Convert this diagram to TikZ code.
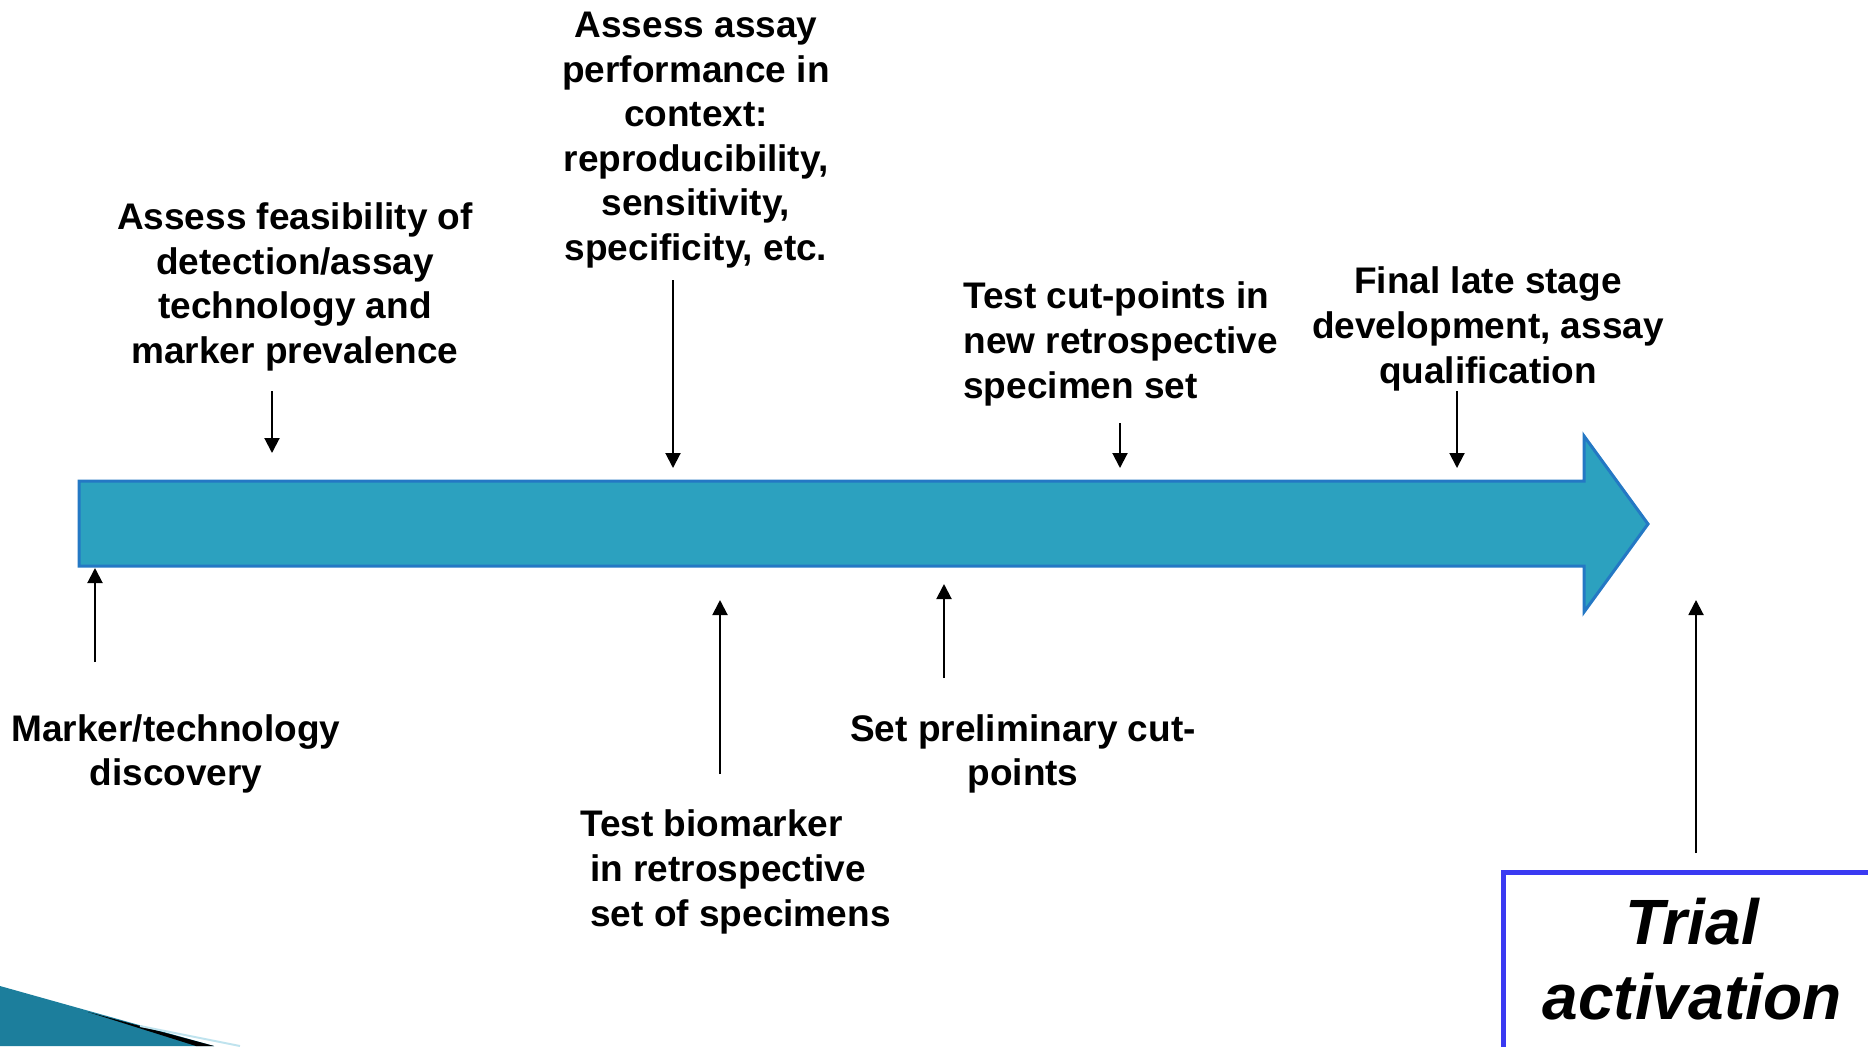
\documentclass[tikz,border=0pt]{standalone}
\usepackage{fontspec}
\setmainfont{Liberation Sans}
\usetikzlibrary{arrows.meta,positioning}
\definecolor{cTeal}{HTML}{2CA1BF}
\definecolor{cEdge}{HTML}{2478C4}
\definecolor{cBox}{HTML}{3A3AF2}
\definecolor{cDeco}{HTML}{1C7E9C}
\definecolor{cPale}{HTML}{BFE3EE}

\begin{document}
\begin{tikzpicture}[x=0.5pt,y=-0.5pt,>={Triangle[length=7.5pt,width=7.5pt]},
   lbl/.style={font=\fontsize{18.5}{22.3}\selectfont\bfseries,align=center,inner sep=0pt},
   tick/.style={->,line width=1pt}]
  \useasboundingbox (0,0) rectangle (1868,1046);
  \clip (0,0) rectangle (1868,1046);

  % corner decoration of the slide
  \fill[cDeco] (0,986) -- (214,1046) -- (0,1046) -- cycle;
  \fill[black] (88,1012) -- (214,1046) -- (196,1046) -- cycle;
  \draw[cPale,line width=1pt] (140,1026) -- (240,1046);

  % the timeline
  \draw[line width=1.5pt,draw=cEdge,fill=cTeal] (79,481) -- (1584,481) -- (1584,436)
      -- (1648,524) -- (1584,612) -- (1584,566) -- (79,566) -- cycle;

  % steps above the line
  \node[lbl] (feas) at (295,287) {Assess feasibility of\\ detection/assay\\ technology and\\ marker prevalence};
  \node[lbl] (perf) at (696,140) {Assess assay\\ performance in\\ context:\\ reproducibility,\\ sensitivity,\\ specificity, etc.};
  \node[lbl,align=left,anchor=west] (cut) at (963,344) {Test cut-points in\\ new retrospective\\ specimen set};
  \node[lbl] (final) at (1488,329) {Final late stage\\ development, assay\\ qualification};

  % steps below the line
  \node[lbl] (disc) at (176,754) {Marker/technology\\ discovery};
  \node[lbl,align=left,anchor=west] (bio) at (580,872) {Test biomarker\\ \hspace*{5pt}in retrospective\\ \hspace*{5pt}set of specimens};
  \node[lbl] (prelim) at (1023,754) {Set preliminary cut-\\ points};

  % end point
  \draw[line width=2.5pt,draw=cBox] (1503,872) rectangle (1900,1090);
  \node[font=\fontsize{32}{37.5}\selectfont\bfseries\itshape,align=center] (trial) at (1692,959) {Trial\\ activation};

  % pointers
  \coordinate (feasA) at (272,391);  \coordinate (feasB) at (272,453);
  \coordinate (perfA) at (673,280);  \coordinate (perfB) at (673,468);
  \coordinate (cutA) at (1120,423);  \coordinate (cutB) at (1120,468);
  \coordinate (finalA) at (1457,391); \coordinate (finalB) at (1457,468);
  \coordinate (discA) at (95,662);   \coordinate (discB) at (95,568);
  \coordinate (bioA) at (720,774);   \coordinate (bioB) at (720,600);
  \coordinate (prelimA) at (944,678); \coordinate (prelimB) at (944,584);
  \coordinate (trialA) at (1696,853); \coordinate (trialB) at (1696,600);
  \draw[tick] (feasA) -- (feasB);
  \draw[tick] (perfA) -- (perfB);
  \draw[tick] (cutA) -- (cutB);
  \draw[tick] (finalA) -- (finalB);
  \draw[tick] (discA) -- (discB);
  \draw[tick] (bioA) -- (bioB);
  \draw[tick] (prelimA) -- (prelimB);
  \draw[tick] (trialA) -- (trialB);
\end{tikzpicture}
\end{document}
